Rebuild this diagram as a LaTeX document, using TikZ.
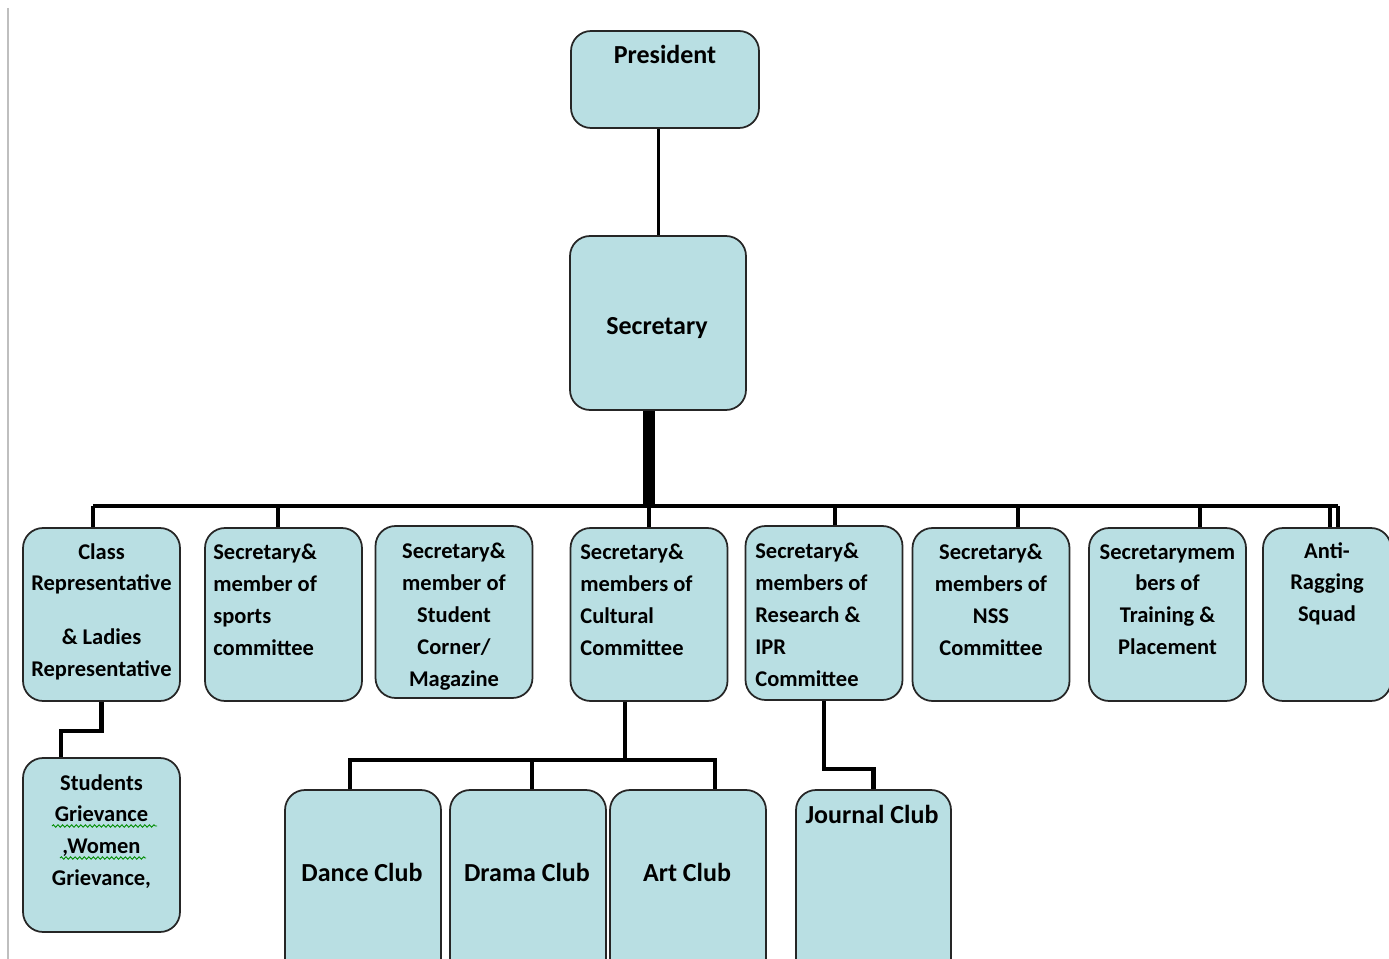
\documentclass[tikz,border=0pt]{standalone}
\usepackage{fontspec}
\setmainfont{Carlito}
\usetikzlibrary{decorations.pathmorphing}
\definecolor{boxfill}{HTML}{B9DFE3}
\tikzset{
  box/.style={draw=black!85, line width=1pt, fill=boxfill, rounded corners=0.4cm, inner sep=0pt},
  lvl/.style={box, minimum width=3.14cm, minimum height=3.46cm},
  club/.style={box, minimum width=3.12cm, minimum height=4.2cm},
  txt/.style={font=\fontsize{12.8}{18.1}\selectfont\bfseries, inner sep=0pt, anchor=north, align=center},
  ltxt/.style={txt, anchor=north west, align=left},
  big/.style={font=\fontsize{14.8}{18.1}\selectfont\bfseries, inner sep=0pt},
  conn/.style={line width=2.3pt},
  squiggle/.style={green!55!black, line width=0.5pt, decorate, decoration={snake, amplitude=0.7pt, segment length=2.6pt}}
}
\begin{document}
\begin{tikzpicture}[x=0.02cm,y=-0.02cm]
\useasboundingbox (0,0) rectangle (1389,959);
\clip (0,0) rectangle (1389,959);
\draw[gray!50, line width=0.6pt] (8,8) -- (8,959);

\node[box, minimum width=3.76cm, minimum height=1.94cm] (pres) at (665,79.5) {};
\node[box, minimum width=3.52cm, minimum height=3.48cm] (sec) at (658,323) {};
\node[lvl] (cls) at (101.5,614.5) {};
\node[lvl] (spo) at (283.5,614.5) {};
\node[lvl, minimum height=3.44cm] (stc) at (454,612) {};
\node[lvl] (cul) at (649,614.5) {};
\node[lvl, minimum height=3.48cm] (res) at (824,613) {};
\node[lvl] (nss) at (991,614.5) {};
\node[lvl] (trn) at (1167.5,614.5) {};
\node[lvl, minimum width=2.56cm] (anti) at (1327,614.5) {};
\node[lvl, minimum height=3.48cm] (stud) at (101.5,845) {};
\node[club] (dance) at (363,895) {};
\node[club] (drama) at (528,895) {};
\node[club] (art) at (688,895) {};
\node[club, minimum width=3.1cm] (jour) at (873.5,895) {};

\node[big] (presT) at (665,54) {President};
\node[big] (secT) at (657,328) {Secretary};
\node[txt] (clsT) at (101.5,543) {Class\\Representative\\[12.5pt]\& Ladies\\Representative};
\node[ltxt] (spoT) at (213,544) {Secretary\&\\member of\\sports\\committee};
\node[txt] (stcT) at (454,543) {Secretary\&\\member of\\Student\\Corner/\\Magazine};
\node[ltxt] (culT) at (580,544) {Secretary\&\\members of\\Cultural\\Committee};
\node[ltxt] (resT) at (755,543) {Secretary\&\\members of\\Research \&\\IPR\\Committee};
\node[txt] (nssT) at (991,544) {Secretary\&\\members of\\NSS\\Committee};
\node[txt] (trnT) at (1167.5,544) {Secretarymem\\bers of\\Training \&\\Placement};
\node[txt] (antiT) at (1327,542) {Anti-\\Ragging\\Squad};
\node[txt] (studT) at (101.5,774) {Students\\Grievance\\,Women\\Grievance,};
\node[big] (danceT) at (362,872) {Dance Club};
\node[big] (dramaT) at (527,872) {Drama Club};
\node[big] (artT) at (687,872) {Art Club};
\node[big] (jourT) at (872,814) {Journal Club};
\draw[squiggle] (52,826) -- (157,826);
\draw[squiggle] (60,858) -- (146,858);

\draw[line width=1.7pt] (sec.north|-pres.south) -- (sec.north);
\draw[line width=6.8pt] (sec.south-|cul.north) -- (cul.north|-0,506);
\coordinate (busL) at (93,506);
\coordinate (busR) at (1338,506);
\draw[conn] (busL) -- (busR);
\draw[conn] (busL) -- (busL|-cls.north);
\coordinate (b2) at (278,506);
\draw[conn] (b2) -- (b2|-spo.north);
\draw[conn] (cul.north|-busL) -- (cul.north);
\coordinate (b5) at (835,506);
\draw[conn] (b5) -- (b5|-res.north);
\coordinate (b6) at (1018,506);
\draw[conn] (b6) -- (b6|-nss.north);
\coordinate (b7) at (1200,506);
\draw[conn] (b7) -- (b7|-trn.north);
\coordinate (b8) at (1330,506);
\draw[conn] (b8) -- (b8|-anti.north);
\draw[conn] (busR) -- (busR|-anti.north);

\coordinate (k1) at (61,731);
\draw[conn] (cls.south) |- (k1) -- (k1|-stud.north);
\coordinate (cb) at (625,760);
\coordinate (cL) at (350,760);
\coordinate (cM) at (532,760);
\coordinate (cR) at (715,760);
\draw[conn] (cb|-cul.south) -- (cb);
\draw[conn] (cL|-dance.north) -- (cL) -- (cR) -- (cR|-art.north);
\draw[conn] (cM) -- (cM|-drama.north);
\draw[conn] (res.south) -- ++(0,68) -| (jour.north);
\end{tikzpicture}
\end{document}
